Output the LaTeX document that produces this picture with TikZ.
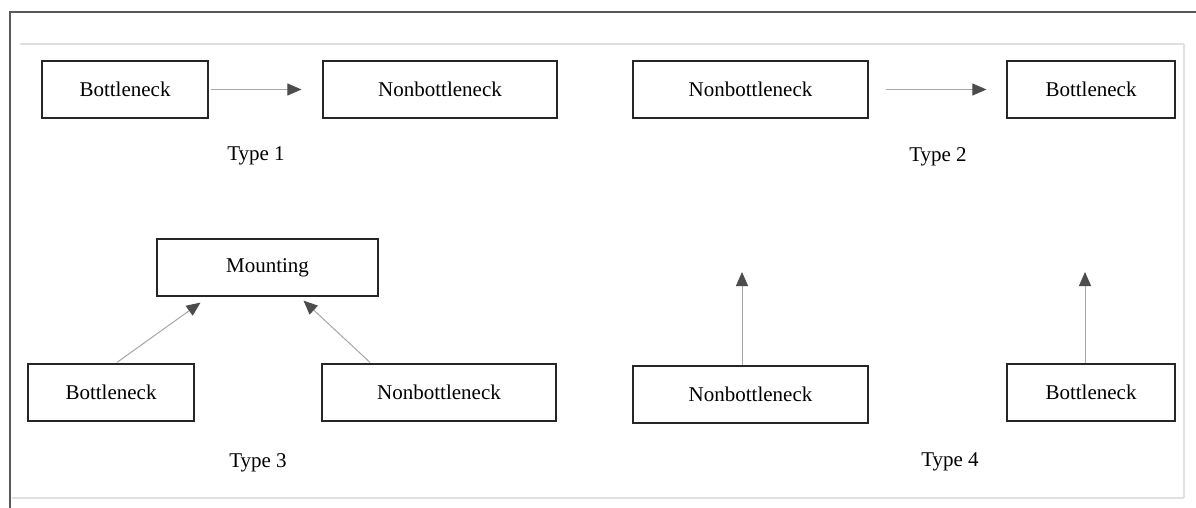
\documentclass[tikz,border=0pt]{standalone}
\usepackage{fontspec}
\setmainfont{Liberation Serif}
\usetikzlibrary{arrows.meta,calc}
\tikzset{
  box/.style={draw=black!85, line width=1.2pt, rectangle, inner sep=0pt, font=\fontsize{21}{24}\selectfont},
  lbl/.style={inner sep=0pt, font=\fontsize{21}{24}\selectfont},
  conn/.style={draw=black!35, line width=1pt, -{Triangle[length=14pt,width=12pt,color=black!70,fill=black!70]}},
  frame/.style={draw=black!65, line width=2pt},
  faint/.style={draw=black!12, line width=1.5pt}
}
\begin{document}
\begin{tikzpicture}[x=1pt,y=-1pt]
\useasboundingbox (0,0) rectangle (1196,508);
% frame
\draw[frame] (1196,12) -- (10,12) -- (10,508);
\draw[faint] (20,44) -- (1184,44);
\draw[faint] (1184,44) -- (1184,498);
\draw[faint] (12,498) -- (1184,498);
% Type 1
\node[box, minimum width=166pt, minimum height=57pt] (t1a) at (125,89.5) {Bottleneck};
\node[box, minimum width=234pt, minimum height=57pt] (t1b) at (440,89.5) {Nonbottleneck};
\draw[conn, shorten <=2pt, shorten >=21pt] (t1a.east) -- (t1b.west);
\node[lbl] (type1) at (256,156) {Type 1};
% Type 2
\node[box, minimum width=235pt, minimum height=57pt] (t2a) at (750.5,89.5) {Nonbottleneck};
\node[box, minimum width=168pt, minimum height=57pt] (t2b) at (1091,89.5) {Bottleneck};
\draw[conn, shorten <=17pt, shorten >=20pt] (t2a.east) -- (t2b.west);
\node[lbl] (type2) at (938,157) {Type 2};
% Type 3
\node[box, minimum width=221pt, minimum height=57pt] (mount) at (267.5,267.5) {Mounting};
\node[box, minimum width=166pt, minimum height=57pt] (t3a) at (111,392.5) {Bottleneck};
\node[box, minimum width=234pt, minimum height=57pt] (t3b) at (439,392.5) {Nonbottleneck};
\draw[conn] ($(t3a.north)+(6,-1)$) -- ($(mount.south)+(-67,6)$);
\draw[conn] ($(t3b.north)+(-69,-1)$) -- ($(mount.south)+(36,4)$);
\node[lbl] (type3) at (258,463) {Type 3};
% Type 4
\node[box, minimum width=235pt, minimum height=57pt] (t4a) at (750.5,394.5) {Nonbottleneck};
\node[box, minimum width=168pt, minimum height=57pt] (t4b) at (1091,392.5) {Bottleneck};
\coordinate (t4ae) at (742,272);
\coordinate (t4be) at (1085,272);
\draw[conn] (t4a.north -| t4ae) -- (t4ae);
\draw[conn] (t4b.north -| t4be) -- (t4be);
\node[lbl] (type4) at (950,462) {Type 4};
\end{tikzpicture}
\end{document}
